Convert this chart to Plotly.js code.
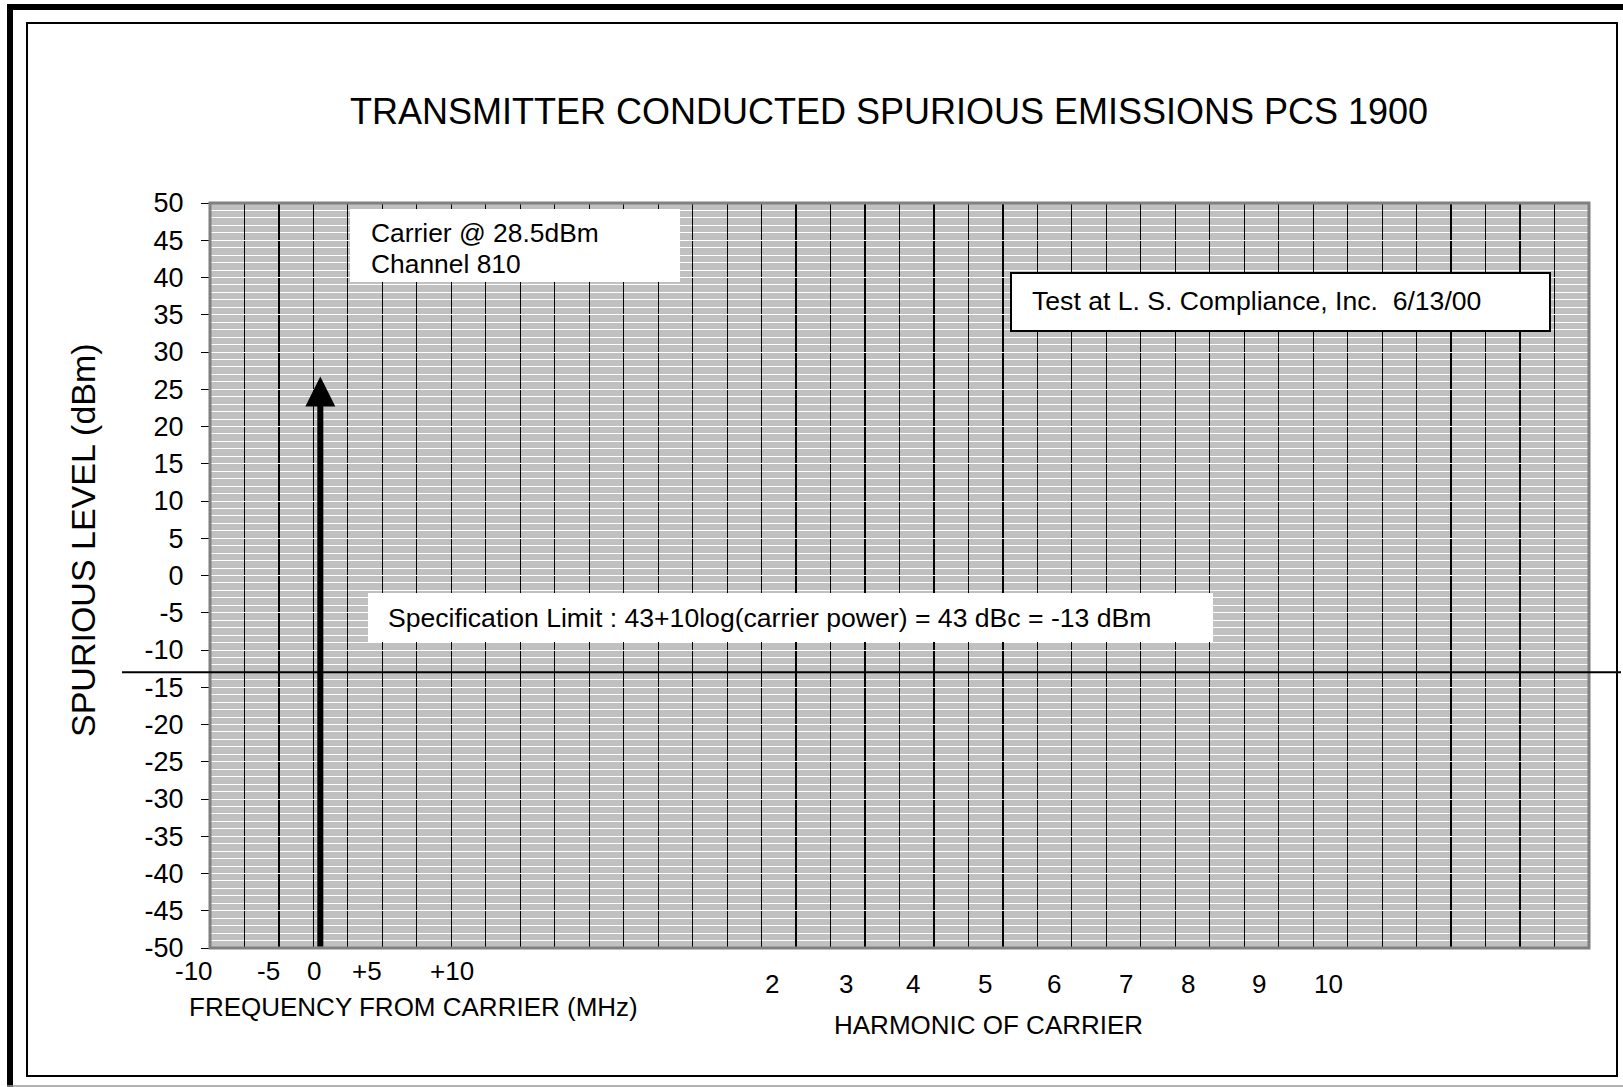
<!DOCTYPE html>
<html>
<head>
<meta charset="utf-8">
<script src="https://cdn.plot.ly/plotly-3.0.1.min.js"></script>
<style>
  html, body { margin: 0; padding: 0; background: #ffffff; }
  #chart { width: 1623px; height: 1087px; }
</style>
</head>
<body>
<div id="chart"></div>
<script>
// ---------------- data ----------------
const chartTitle = 'TRANSMITTER CONDUCTED SPURIOUS EMISSIONS PCS 1900';
const yTitle = 'SPURIOUS LEVEL (dBm)';
const freqTitle = 'FREQUENCY FROM CARRIER (MHz)';
const harmonicTitle = 'HARMONIC OF CARRIER';

// level axis (dBm)
const levelMin = -50;
const levelMax = 50;
const yTickVals = [50, 45, 40, 35, 30, 25, 20, 15, 10, 5, 0, -5, -10, -15, -20, -25, -30, -35, -40, -45, -50];
const yTickLabels = ['50', '45', '40', '35', '30', '25', '20', '15', '10', '5', '0', '-5', '-10', '-15', '-20', '-25', '-30', '-35', '-40', '-45', '-50'];

// category columns of the chart grid
const columnCount = 40;

// frequency-from-carrier labels and their column positions
const freqTickLabels = ['-10', '-5', '0', '+5', '+10'];
const freqTickPos = [-0.46, 1.71, 3.02, 4.55, 7.02];

// harmonic labels and their column positions
const harmonicTickLabels = ['2', '3', '4', '5', '6', '7', '8', '9', '10'];
const harmonicTickPos = [16.3, 18.45, 20.39, 22.48, 24.48, 26.57, 28.37, 30.43, 32.43];

// carrier arrow
const carrierPos = [3.2];
const carrierLevel = [26.7];

// specification limit (dBm)
const specLimit = [-13];

// notes
const carrierNote = ['Carrier @ 28.5dBm', 'Channel 810'];
const testNote = 'Test at L. S. Compliance, Inc.\u00a0 6/13/00';
const specNote = 'Specification Limit : 43+10log(carrier power) = 43 dBc = -13 dBm';

// ---------------- layout helpers ----------------
const W = 1623, H = 1087;
const L = 210, R = 1589, T = 203, B = 948;
const px = x => (x - L) / (R - L);
const py = y => (B - y) / (B - T);
const colToPaper = c => c / columnCount;
const FONT = 'Liberation Sans, Arial, Helvetica, sans-serif';

const annotations = [];
function txt(text, x, y, size, opts) {
  annotations.push(Object.assign({
    text: text, xref: 'paper', yref: 'paper', x: x, y: y,
    showarrow: false, xanchor: 'center', yanchor: 'middle',
    font: { family: FONT, size: size, color: '#000000' }
  }, opts || {}));
}

// axis titles
txt(yTitle, px(83), py(540), 34, { textangle: -90 });
txt(freqTitle, px(413), py(1007), 26);
txt(harmonicTitle, px(988), py(1025), 26);

// tick-like labels below the grid
freqTickLabels.forEach((t, i) => {
  txt(t, colToPaper(freqTickPos[i]), py(971), 26);
});
harmonicTickLabels.forEach((t, i) => {
  txt(t, colToPaper(harmonicTickPos[i]), py(984), 26);
});

// notes
txt(carrierNote[0], px(369), py(233), 26.4, { xanchor: 'left' });
txt(carrierNote[1], px(369), py(264), 26.4, { xanchor: 'left' });
txt(testNote, px(1030), py(301), 26.6, { xanchor: 'left' });
txt(specNote, px(386), py(618), 26.6, { xanchor: 'left' });

// carrier arrow
carrierPos.forEach((xv, i) => {
  annotations.push({
    x: xv, y: carrierLevel[i], xref: 'x', yref: 'y',
    ax: xv, ay: levelMin, axref: 'x', ayref: 'y',
    text: '', showarrow: true, arrowhead: 2, arrowsize: 1,
    arrowwidth: 6, arrowcolor: '#000000', standoff: 0, startstandoff: 0
  });
});

const shapes = [
  // outer thick frame (left & top)
  { type: 'line', xref: 'paper', yref: 'paper', x0: px(10), x1: px(10), y0: py(4), y1: py(1090),
    line: { color: '#000000', width: 6 }, layer: 'above' },
  { type: 'line', xref: 'paper', yref: 'paper', x0: px(7), x1: px(1630), y0: py(7), y1: py(7),
    line: { color: '#000000', width: 6 }, layer: 'above' },
  // inner thin frame
  { type: 'rect', xref: 'paper', yref: 'paper', x0: px(27), x1: px(1617), y0: py(23), y1: py(1076),
    line: { color: '#000000', width: 2 }, layer: 'below' },
  // bottom edge
  { type: 'line', xref: 'paper', yref: 'paper', x0: px(7), x1: px(1630), y0: py(1086), y1: py(1086),
    line: { color: '#999999', width: 1.5 }, layer: 'above' },
  // plot frame
  { type: 'rect', xref: 'paper', yref: 'paper', x0: 0, x1: 1, y0: 0, y1: 1,
    line: { color: '#808080', width: 3 }, layer: 'above' },
  // white note boxes
  { type: 'rect', xref: 'paper', yref: 'paper', x0: px(350), x1: px(680), y0: py(282), y1: py(209),
    fillcolor: '#ffffff', line: { width: 0 }, layer: 'above' },
  { type: 'rect', xref: 'paper', yref: 'paper', x0: px(1011), x1: px(1550), y0: py(331), y1: py(273),
    fillcolor: '#ffffff', line: { color: '#000000', width: 2 }, layer: 'above' },
  { type: 'rect', xref: 'paper', yref: 'paper', x0: px(368), x1: px(1213), y0: py(642), y1: py(593),
    fillcolor: '#ffffff', line: { width: 0 }, layer: 'above' }
];
// specification limit line
specLimit.forEach(v => {
  shapes.push({ type: 'line', xref: 'paper', yref: 'y', x0: px(122), x1: px(1621), y0: v, y1: v,
    line: { color: '#000000', width: 2 }, layer: 'above' });
});

const layout = {
  width: W, height: H, autosize: false,
  margin: { l: L, r: W - R, t: T, b: H - B, pad: 0 },
  paper_bgcolor: '#ffffff',
  plot_bgcolor: '#c0c0c0',
  showlegend: false,
  font: { family: FONT, color: '#000000' },
  title: {
    text: chartTitle, xref: 'container', yref: 'container',
    x: 889 / W, xanchor: 'center', y: 1 - 111 / H, yanchor: 'middle',
    font: { family: FONT, size: 36, color: '#000000' }
  },
  xaxis: {
    range: [0, columnCount], dtick: 1, tick0: 0,
    showgrid: true, gridcolor: '#000000', gridwidth: 1.2,
    showticklabels: false, ticks: '', zeroline: false, showline: false,
    fixedrange: true
  },
  yaxis: {
    range: [levelMin, levelMax],
    tickmode: 'array', tickvals: yTickVals, ticktext: yTickLabels,
    showgrid: true, gridcolor: '#ffffff', gridwidth: 1,
    minor: { dtick: 1, showgrid: true, gridcolor: '#ffffff', gridwidth: 1, ticks: '' },
    ticks: 'outside', ticklen: 8, tickcolor: '#000000', tickwidth: 1,
    ticklabelstandoff: 12,
    tickfont: { family: FONT, size: 27, color: '#000000' },
    zeroline: false, showline: false, fixedrange: true
  },
  annotations: annotations,
  shapes: shapes
};

const traces = [{
  type: 'scatter', mode: 'lines', x: [0, columnCount], y: [levelMin, levelMin],
  line: { width: 0 }, hoverinfo: 'skip', showlegend: false
}];

Plotly.newPlot('chart', traces, layout, { staticPlot: true, displayModeBar: false });
</script>
</body>
</html>
